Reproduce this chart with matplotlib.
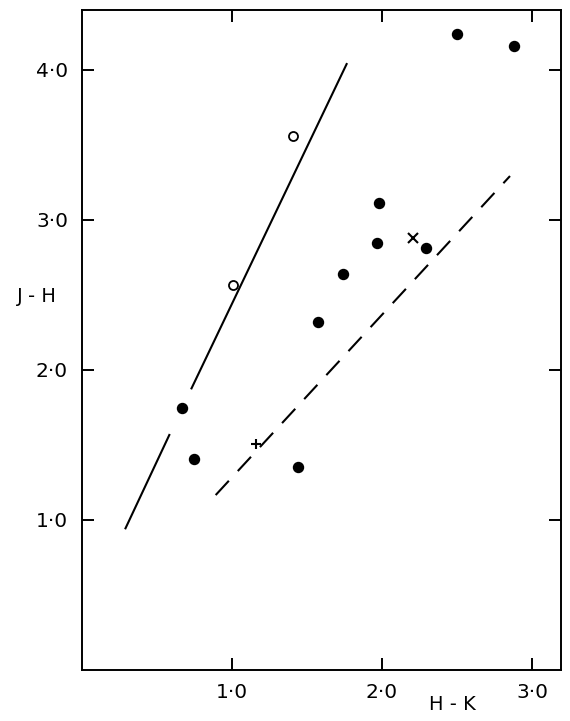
import matplotlib
matplotlib.use("Agg")
import matplotlib.pyplot as plt

# ---- data ----
filled_hk = [0.667, 0.747, 1.442, 1.575, 1.738, 1.964, 1.982, 2.293, 2.502, 2.878]
filled_jh = [1.743, 1.403, 1.348, 2.319, 2.635, 2.841, 3.108, 2.812, 4.239, 4.159]
open_hk = [1.009, 1.407]
open_jh = [2.563, 3.557]
cross_hk = [2.209]
cross_jh = [2.879]
plus_hk = [1.16]
plus_jh = [1.503]

# solid line (two pieces, gap where the printed line breaks)
solid_lo_hk = [0.287, 0.585]
solid_lo_jh = [0.935, 1.570]
solid_hi_hk = [0.727, 1.767]
solid_hi_jh = [1.868, 4.043]
# dashed line
dash_hk = [0.891, 2.853]
dash_jh = [1.163, 3.290]

tick_vals = [1.0, 2.0, 3.0, 4.0]
xtick_vals = [1.0, 2.0, 3.0]
xtick_labels = ["1·0", "2·0", "3·0"]
ytick_labels = ["1·0", "2·0", "3·0", "4·0"]

plt.rcParams['lines.scale_dashes'] = False
fig = plt.figure(figsize=(5.70, 7.21), dpi=100)
ax = fig.add_axes([82/570, 1 - 669.5/721, (561-82)/570, (669.5-10)/721])
ax.set_xlim(0, 3.193)
ax.set_ylim(0, 4.397)

ax.plot(solid_lo_hk, solid_lo_jh, color='black', lw=1.5, solid_capstyle='butt')
ax.plot(solid_hi_hk, solid_hi_jh, color='black', lw=1.5, solid_capstyle='butt')
ax.plot(dash_hk, dash_jh, color='black', lw=1.5, dashes=(14, 9.5), dash_capstyle='butt')

ax.plot(filled_hk, filled_jh, 'o', color='black', ms=7.2, ls='none')
ax.plot(open_hk, open_jh, 'o', mfc='white', mec='black', mew=1.3, ms=6.5, ls='none')
ax.plot(cross_hk, cross_jh, 'x', color='black', mew=1.5, ms=6.5, ls='none')
ax.plot(plus_hk, plus_jh, '+', color='black', mew=1.5, ms=7, ls='none')

for s in ax.spines.values():
    s.set_linewidth(1.4)

ax.set_xticks(xtick_vals)
ax.set_xticklabels(xtick_labels)
ax.set_yticks(tick_vals)
ax.set_yticklabels(ytick_labels)
ax.tick_params(axis='both', direction='in', length=8.5, width=1.4, labelsize=14.5,
               top=True, right=True)
ax.tick_params(axis='x', pad=10)
ax.tick_params(axis='y', pad=10)

fig.text(57/570, 1 - 296/721, "J - H", ha='right', va='center', fontsize=14)
fig.text(452/570, 1 - 705/721, "H - K", ha='center', va='center', fontsize=14)

fig.savefig("out.png", dpi=100)
